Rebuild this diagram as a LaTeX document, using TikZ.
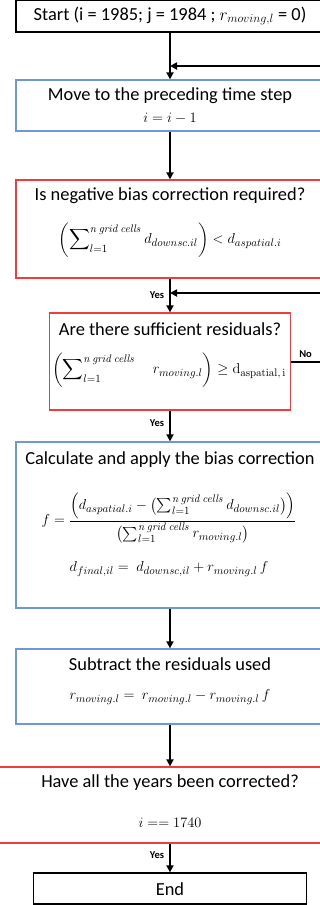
\documentclass[tikz,border=0pt]{standalone}
\usepackage{amsmath}
\usepackage[no-math]{fontspec}
\setmainfont{Carlito}
\usepackage{tikz}
\usetikzlibrary{arrows.meta, positioning}
\definecolor{FlowRed}{HTML}{F23C3C}
\definecolor{FlowBlue}{HTML}{6E97DB}
\tikzset{
  procbox/.style={draw=FlowBlue, line width=1.3pt, inner sep=0pt, minimum width=308pt},
  testbox/.style={draw=FlowRed, line width=1.3pt, inner sep=0pt, minimum width=308pt},
  termbox/.style={draw=black, line width=1.3pt, inner sep=0pt},
  flow/.style={line width=2pt, -{Triangle[length=7pt,width=7pt]}},
  plainflow/.style={line width=2pt},
  title/.style={font=\fontsize{18.4}{22}\selectfont, inner sep=0pt},
  formula/.style={font=\fontsize{15}{18}\selectfont, inner sep=0pt},
  answer/.style={font=\fontsize{10.5}{12}\selectfont\bfseries, inner sep=1pt}
}

\begin{document}
\begin{tikzpicture}[x=1pt,y=-1pt]
\useasboundingbox (0,0) rectangle (320,905);

% boxes
\node[termbox, minimum width=308pt, minimum height=32pt] (start) at (170,16) {};
\node[title] (startText) at (170,16) {Start (i = 1985; j = 1984 ; $r_{moving,l}$ = 0)};

\node[procbox, minimum height=51pt] (move) at (170,105.5) {};
\node[title] (moveTitle) at (170,96) {Move to the preceding time step};
\node[formula] (moveEq) at (170,118) {$i = i - 1$};

\node[testbox, minimum height=98pt] (neg) at (170,229) {};
\node[title] (negTitle) at (170,196) {Is negative bias correction required?};
\node[formula] (negEq) at (170,240)
  {$\biggl(\displaystyle\sum\nolimits_{l=1}^{\mathit{n\,grid\,cells}} d_{downsc.il}\biggr) < d_{aspatial.i}$};

\node[testbox, minimum width=241pt, minimum height=97pt] (suff) at (170,361.5) {};
\node[title] (suffTitle) at (170,329) {Are there sufficient residuals?};
\node[formula] (suffEq) at (169,370)
  {$\biggl(\displaystyle\sum\nolimits_{l=1}^{\mathit{n\,grid\,cells}} \quad r_{moving.l}\biggr) \geq \mathrm{d}_{\mathrm{aspatial,\,i}}$};

\node[procbox, minimum height=166pt] (calc) at (170,525) {};
\node[title] (calcTitle) at (170,460) {Calculate and apply the bias correction};
\node[formula] (calcEq) at (169,518)
  {$f = \dfrac{\Bigl(d_{aspatial.i} - \bigl(\sum_{l=1}^{\mathit{n\,grid\,cells}} d_{downsc.il}\bigr)\Bigr)}{\bigl(\sum_{l=1}^{\mathit{n\,grid\,cells}} r_{moving.l}\bigr)}$};
\node[formula] (finalEq) at (169,569) {$d_{final,il} = \ d_{downsc,il} + r_{moving.l}\, f$};

\node[procbox, minimum height=75pt] (subtr) at (170,686.5) {};
\node[title] (subtrTitle) at (170,664) {Subtract the residuals used};
\node[formula] (subtrEq) at (170,697) {$r_{moving.l} = \ r_{moving.l} - r_{moving.l}\, f$};

\node[testbox, minimum width=380pt, minimum height=76pt] (years) at (170,805) {};
\node[title] (yearsTitle) at (170,783) {Have all the years been corrected?};
\node[formula] (yearsEq) at (170,823) {$i == 1740$};

\node[termbox, minimum width=273pt, minimum height=31pt] (end) at (170,888.5) {};
\node[title] (endText) at (170,889) {End};

% loops coming back from the right
\coordinate (loopTop) at (320,66);
\coordinate (loopMid) at (320,293);
\coordinate (noEnd) at (320,361.5);

% connectors
\draw[flow] (start) -- (move);
\draw[flow] (loopTop) -- (loopTop -| start);
\draw[flow] (move) -- (neg);
\draw[flow] (neg) -- node[answer, left=4pt] {Yes} (suff);
\draw[flow] (loopMid) -- (loopMid -| neg);
\draw[plainflow] (suff.east) -- node[answer, above=2pt] {No} (noEnd);
\draw[flow] (suff) -- node[answer, left=4pt, pos=0.4] {Yes} (calc);
\draw[flow] (calc) -- (subtr);
\draw[flow] (subtr) -- (years);
\draw[flow] (years) -- node[answer, left=4pt, pos=0.4] {Yes} (end);
\end{tikzpicture}
\end{document}
